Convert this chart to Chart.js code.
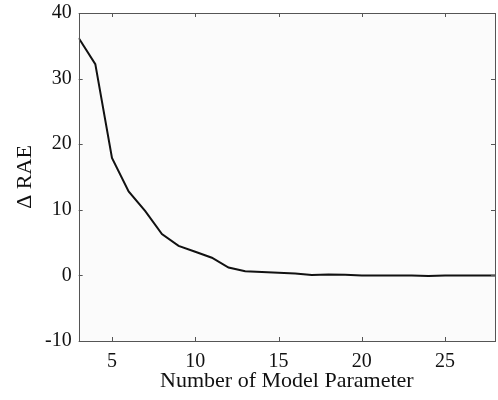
<!DOCTYPE html>
<html>
<head>
<meta charset="utf-8">
<script src="https://cdn.jsdelivr.net/npm/chart.js@4"></script>
<style>
  body { margin: 0; background: #fff; }
  #wrap { width: 498px; height: 400px; }
</style>
</head>
<body>
<div id="wrap"><canvas id="c" width="498" height="400"></canvas></div>
<script>
// data
const params = [3, 4, 5, 6, 7, 8, 9, 10, 11, 12, 13, 14, 15, 16, 17, 18, 19, 20, 21, 22, 23, 24, 25, 26, 27, 28];
const deltaRAE = [36.2, 32.2, 17.9, 12.8, 9.8, 6.3, 4.5, 3.6, 2.7, 1.2, 0.65, 0.5, 0.4, 0.3, 0.05, 0.15, 0.1, 0, 0, 0, 0, -0.1, 0, 0, 0, 0];
const xTicks = [5, 10, 15, 20, 25];
const yTicks = [-10, 0, 10, 20, 30, 40];

const serif = '"Liberation Serif", "DejaVu Serif", serif';

// box frame + inward tick marks on all four sides
const frame = {
    id: 'frame',
    beforeDraw(chart) {
        const { ctx, chartArea: a } = chart;
        ctx.save();
        ctx.fillStyle = '#fbfbfb';
        ctx.fillRect(a.left, a.top, a.right - a.left, a.bottom - a.top);
        ctx.restore();
    },
    afterDraw(chart) {
        const { ctx, chartArea: a, scales } = chart;
        const len = 4;
        ctx.save();
        ctx.strokeStyle = '#555';
        ctx.lineWidth = 1;
        ctx.beginPath();
        xTicks.forEach(v => {
            const x = Math.round(scales.x.getPixelForValue(v)) + 0.5;
            ctx.moveTo(x, a.bottom); ctx.lineTo(x, a.bottom - len);
            ctx.moveTo(x, a.top); ctx.lineTo(x, a.top + len);
        });
        yTicks.forEach(v => {
            const y = Math.round(scales.y.getPixelForValue(v)) + 0.5;
            ctx.moveTo(a.left, y); ctx.lineTo(a.left + len, y);
            ctx.moveTo(a.right, y); ctx.lineTo(a.right - len, y);
        });
        ctx.stroke();
        ctx.strokeRect(Math.round(a.left) + 0.5, Math.round(a.top) + 0.5,
            Math.round(a.right - a.left), Math.round(a.bottom - a.top));
        ctx.restore();
    }
};

new Chart(document.getElementById('c'), {
    type: 'line',
    data: {
        datasets: [{
            data: params.map((p, i) => ({ x: p, y: deltaRAE[i] })),
            borderColor: '#111',
            borderWidth: 2,
            pointRadius: 0,
            tension: 0,
            fill: false
        }]
    },
    options: {
        responsive: false,
        animation: false,
        layout: { padding: { top: 13, right: 3, bottom: 8, left: 6 } },
        plugins: { legend: { display: false }, tooltip: { enabled: false } },
        scales: {
            x: {
                type: 'linear',
                min: 3, max: 28,
                afterBuildTicks: s => { s.ticks = xTicks.map(v => ({ value: v })); },
                afterFit: s => { s.paddingLeft = 0; s.paddingRight = 0; s.height = 51; },
                grid: { display: false, drawTicks: false },
                border: { display: false },
                ticks: { color: '#111', font: { family: serif, size: 20, lineHeight: 1 }, padding: 11, maxRotation: 0 },
                title: { display: true, text: 'Number of Model Parameter', color: '#111',
                         font: { family: serif, size: 22, lineHeight: 1 }, padding: { top: 0, bottom: 0 } }
            },
            y: {
                min: -10, max: 40,
                afterBuildTicks: s => { s.ticks = yTicks.map(v => ({ value: v })); },
                afterFit: s => { s.paddingTop = 0; s.paddingBottom = 0; },
                grid: { display: false, drawTicks: false },
                border: { display: false },
                ticks: { color: '#111', font: { family: serif, size: 20, lineHeight: 1 }, padding: 7 },
                title: { display: true, text: 'Δ RAE', color: '#111',
                         font: { family: serif, size: 22, lineHeight: 1 }, padding: { top: 8, bottom: 2 } }
            }
        }
    },
    plugins: [frame]
});
</script>
</body>
</html>
